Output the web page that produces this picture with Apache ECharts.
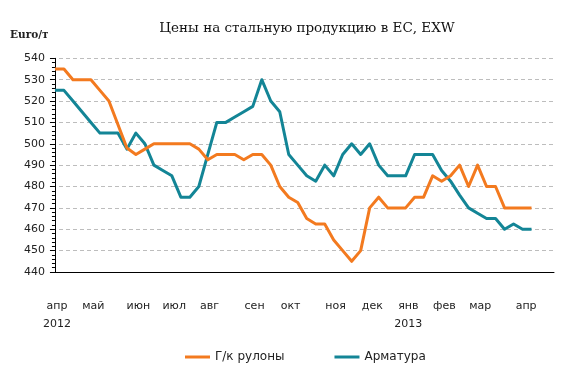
<!DOCTYPE html>
<html>
<head>
<meta charset="utf-8">
<script src="https://cdn.jsdelivr.net/npm/echarts@6/dist/echarts.min.js"></script>
<style>html,body{margin:0;padding:0;background:#fff;}#c{width:580px;height:380px;}</style>
</head>
<body>
<div id="c"></div>
<script>
// Weekly observations, April 2012 – April 2013 (index = week number)
const hotRolled = [535,535,530,530,530,525,520,509,498,495,497.5,500,500,500,500,500,497.5,492.5,495,495,495,492.5,495,495,490,480,475,472.5,465,462.5,462.5,455,450,445,450,470,475,470,470,470,475,475,485,482.5,485,490,480,490,480,480,470,470,470,470];
const rebar = [525,525,520,515,510,505,505,505,497.5,505,500,490,487.5,485,475,475,480,495,510,510,512.5,515,517.5,530,520,515,495,490,485,482.5,490,485,495,500,495,500,490,485,485,485,495,495,495,487.5,482.5,476,470,467.5,465,465,460,462.5,460,460];
const monthPos = [0.23,4.26,9.28,13.26,17.2,22.2,26.2,31.2,35.3,39.3,43.3,47.3,52.4];
const monthLabels = ['апр\n2012','май','июн','июл','авг','сен','окт','ноя','дек','янв\n2013','фев','мар','апр'];
const seriesNames = ['Г/к рулоны','Арматура'];

const toPairs = arr => arr.map((v, i) => [i, v]);
const chart = echarts.init(document.getElementById('c'), null, {renderer: 'canvas'});
chart.setOption({
  animation: false,
  backgroundColor: '#fff',
  title: [
    {text: 'Цены на стальную продукцию в ЕС, EXW', left: 307, top: 21, padding: 0, textAlign: 'center',
     textStyle: {fontFamily: 'DejaVu Serif', fontSize: 13.5, fontWeight: 'normal', color: '#111'}},
    {text: 'Euro/т', left: 10, top: 30, padding: 0,
     textStyle: {fontFamily: 'DejaVu Serif', fontSize: 10.5, fontWeight: 'bold', color: '#222'}}
  ],
  legend: {
    left: 185, top: 351, padding: 0, icon: 'rect', itemWidth: 25, itemHeight: 3, itemGap: 50,
    textStyle: {fontFamily: 'DejaVu Sans', fontSize: 12, color: '#222'},
    data: seriesNames
  },
  grid: {left: 52, right: 26, top: 58.3, bottom: 108, containLabel: false},
  xAxis: {
    type: 'value', min: -0.33, max: 55.5,
    axisLine: {show: true, lineStyle: {color: '#000', width: 1}},
    axisTick: {show: false},
    splitLine: {show: false},
    axisLabel: {
      customValues: monthPos,
      margin: 25,
      lineHeight: 18,
      fontFamily: 'DejaVu Sans', fontSize: 11, color: '#222',
      formatter: function (val) {
        const k = monthPos.findIndex(p => Math.abs(p - val) < 1e-6);
        return k >= 0 ? monthLabels[k] : '';
      }
    }
  },
  yAxis: {
    type: 'value', min: 440, max: 540, interval: 10,
    axisLine: {show: true, lineStyle: {color: '#000', width: 1}},
    axisTick: {show: true, inside: false, length: 5, lineStyle: {color: '#000'}},
    minorTick: {show: true, splitNumber: 5, length: 3, lineStyle: {color: '#000'}},
    axisLabel: {margin: 7, fontFamily: 'DejaVu Sans', fontSize: 11, color: '#222'},
    splitLine: {show: true, lineStyle: {color: '#bdbdbd', type: [4, 3], width: 1}}
  },
  series: [
    {name: seriesNames[0], type: 'line', data: toPairs(hotRolled), showSymbol: false, symbol: 'none',
     color: '#F37A1F', lineStyle: {width: 3, color: '#F37A1F', join: 'round'}, z: 3},
    {name: seriesNames[1], type: 'line', data: toPairs(rebar), showSymbol: false, symbol: 'none',
     color: '#138596', lineStyle: {width: 3, color: '#138596', join: 'round'}, z: 2}
  ]
});
</script>
</body>
</html>
